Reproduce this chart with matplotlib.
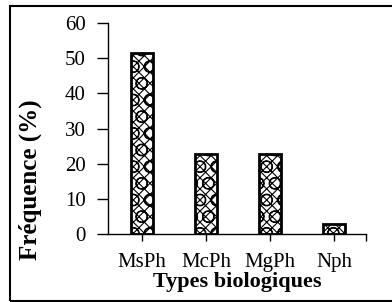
import matplotlib.pyplot as plt
from matplotlib.patches import Rectangle

types = ['MsPh', 'McPh', 'MgPh', 'Nph']
frequence = [51.43, 22.86, 22.86, 2.86]

plt.rcParams['font.family'] = 'Liberation Serif'
plt.rcParams['hatch.linewidth'] = 0.8

fig = plt.figure(figsize=(3.92, 3.02), dpi=100)
ax = fig.add_axes([108 / 392, 1 - 234 / 302, 258 / 392, 211 / 302])

x = list(range(len(types)))
ax.bar(x, frequence, width=0.34, color='white', edgecolor='black',
       linewidth=2, hatch='xxxO')

ax.set_xlim(-0.53, 3.5)
ax.set_ylim(0, 60)
ax.set_yticks([0, 10, 20, 30, 40, 50, 60])
ax.set_xticks(x)
ax.set_xticks([3.5], minor=True)
ax.set_xticklabels(types)
ax.spines['top'].set_visible(False)
ax.spines['right'].set_visible(False)
ax.spines['left'].set_linewidth(1)
ax.spines['bottom'].set_linewidth(1)
ax.tick_params(axis='y', direction='out', length=8, width=1, labelsize=15, pad=8)
ax.tick_params(axis='x', which='both', direction='out', length=5, width=1, labelsize=15, pad=8.5)

ax.set_ylabel('Fréquence (%)', fontsize=18, fontweight='bold')
ax.yaxis.set_label_coords(-0.256, 0.256)
ax.set_xlabel('Types biologiques', fontsize=16, fontweight='bold', labelpad=0)

# cadre autour de la figure
fig.patches.append(Rectangle((10 / 392, 1 / 302), 1.05, 295 / 302,
                             transform=fig.transFigure, fill=False,
                             edgecolor='black', linewidth=1.5))

fig.savefig('out.png', dpi=100)
